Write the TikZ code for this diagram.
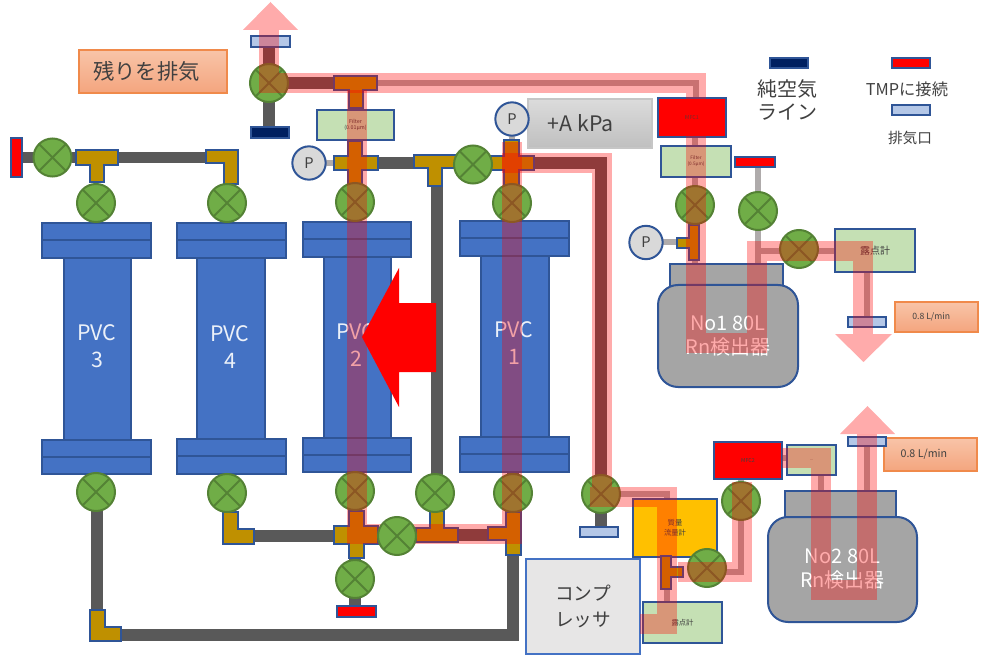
\documentclass[tikz,border=0pt]{standalone}
\usepackage{fontspec}
\setmainfont{Noto Sans CJK JP}
\pgfdeclarelayer{pipes}
\pgfdeclarelayer{bands}
\pgfdeclarelayer{top}
\pgfsetlayers{pipes,main,bands,top}
\definecolor{edge}{HTML}{2F5597}
\definecolor{vfill}{HTML}{70AD47}
\definecolor{vedge}{HTML}{548235}
\definecolor{gold}{HTML}{BF9000}
\definecolor{pvcblue}{HTML}{4472C4}
\definecolor{filtergreen}{HTML}{C5E0B4}
\definecolor{navy}{HTML}{002060}
\definecolor{capblue}{HTML}{B4C7E7}
\definecolor{detgray}{HTML}{A5A5A5}
\definecolor{pipedark}{HTML}{595959}
\definecolor{pipelight}{HTML}{AFABAB}
\definecolor{txt}{HTML}{404040}
\definecolor{labtop}{HTML}{F8C4A8}
\definecolor{labbot}{HTML}{F4A57E}
\definecolor{labedge}{HTML}{F08A4B}
\definecolor{massfill}{HTML}{FFC000}
\definecolor{compfill}{HTML}{E7E6E6}
\tikzset{
  plainbox/.style={rectangle,draw=edge,line width=1.5pt,inner sep=0pt,outer sep=0pt,align=center,text=txt},
  pvcpart/.style={plainbox,fill=pvcblue},
  filterbox/.style={plainbox,fill=filtergreen},
  capnavy/.style={plainbox,fill=navy},
  capred/.style={plainbox,fill=red},
  capblue/.style={plainbox,fill=capblue},
  mfc/.style={plainbox,fill=red},
  detector/.style={plainbox,fill=detgray,text=white,rounded corners=15pt},
  dettop/.style={plainbox,fill=detgray},
  orangelabel/.style={plainbox,draw=labedge,line width=.9pt,top color=labtop,bottom color=labbot,text=txt},
  valve/.style={circle,draw=vedge,fill=vfill,line width=1.5pt,minimum size=28.5pt,inner sep=0pt,outer sep=0pt,
    path picture={\draw[vedge,line width=1.5pt] (path picture bounding box.north west)--(path picture bounding box.south east)
      (path picture bounding box.north east)--(path picture bounding box.south west);}},
  gauge/.style={circle,draw=edge,fill=gray!30,line width=1.5pt,minimum size=25pt,inner sep=0pt,outer sep=0pt,text=txt,font=\fontsize{11}{13}\selectfont},
  freetext/.style={inner sep=0pt,outer sep=0pt,align=center,text=txt},
  pvctext/.style={inner sep=0pt,outer sep=0pt,align=center,text=white!90!pvcblue,font=\fontsize{16}{20}\selectfont},
  pipe/.style={pipedark,line width=8.5pt},
  thinpipe/.style={pipelight,line width=4.5pt},
  band/.style={red,opacity=.33,line width=15pt,line join=miter},
  fitedge/.style={draw=edge,line width=3pt,fill=edge},
  flowhead/.style={fill=red,opacity=.33},
}
\newcommand\bx[7][]{\node[plainbox,#1,minimum width={(#5-#3)*0.75pt},minimum height={(#6-#4)*0.75pt}] (#2) at ({(#3+#5)/2},{(#4+#6)/2}) {#7};}
\newcommand\fitshape[1]{%
  \foreach \a/\b/\c/\d in {#1}{\draw[fitedge] (\a,\b) rectangle (\c,\d);}
  \foreach \a/\b/\c/\d in {#1}{\fill[gold] (\a,\b) rectangle (\c,\d);}
}
\begin{document}
\begin{tikzpicture}[x=0.75pt,y=-0.75pt]
\useasboundingbox (0,0) rectangle (986,656);
% columns
\bx[pvcpart]{b3}{64}{258}{131}{440}{}
\bx[pvcpart]{b4}{197}{258}{265}{440}{}
\bx[pvcpart]{b2}{324}{257}{391}{438}{}
\bx[pvcpart]{b1}{481}{256}{549}{437}{}
\bx[pvcpart]{f3a}{42}{223}{151}{240}{}
\bx[pvcpart]{f3b}{42}{240}{151}{258}{}
\bx[pvcpart]{f3c}{42}{440}{151}{457}{}
\bx[pvcpart]{f3d}{42}{457}{151}{474}{}
\bx[pvcpart]{f4a}{177}{223}{286}{240}{}
\bx[pvcpart]{f4b}{177}{240}{286}{258}{}
\bx[pvcpart]{f4c}{177}{439}{286}{456}{}
\bx[pvcpart]{f4d}{177}{456}{286}{474}{}
\bx[pvcpart]{f2a}{303}{222}{411}{239}{}
\bx[pvcpart]{f2b}{303}{239}{411}{257}{}
\bx[pvcpart]{f2c}{303}{438}{411}{455}{}
\bx[pvcpart]{f2d}{303}{455}{411}{472}{}
\bx[pvcpart]{f1a}{460}{221}{569}{238}{}
\bx[pvcpart]{f1b}{460}{238}{569}{256}{}
\bx[pvcpart]{f1c}{460}{437}{569}{454}{}
\bx[pvcpart]{f1d}{460}{454}{569}{472}{}
\node[pvctext] (t3) at (97,346) {PVC\\3};
\node[pvctext] (t4) at (230,347) {PVC\\4};
\node[pvctext] (t2) at (356,345) {PVC\\2};
\node[pvctext] (t1) at (514,343) {PVC\\1};
% boxes
\bx[orangelabel,font=\fontsize{16}{18}\selectfont]{rest}{79}{50}{227}{93}{残りを排気\hspace{10pt}}
\bx[filterbox,font=\fontsize{4}{5}\selectfont]{f001}{317}{110}{394}{140}{Filter\\(0.01µm)}
\bx[plainbox,draw=gray!45,line width=.8pt,top color=gray!28,bottom color=gray!50,font=\fontsize{16}{18}\selectfont]{akpa}{528}{99}{652}{148}{+A kPa\hspace{14pt}}
\bx[mfc,font=\fontsize{4}{5}\selectfont]{mfc1}{658}{98}{726}{137}{MFC1}
\bx[filterbox,font=\fontsize{3.5}{4.5}\selectfont]{f05}{661}{146}{731}{177}{Filter\\(0.5µm)}
\bx[dettop]{d1top}{670}{264}{783}{288}{}
\bx[detector,font=\fontsize{15}{18}\selectfont]{d1}{658}{285}{798}{387}{No1 80L\\Rn検出器}
\bx[filterbox,font=\fontsize{7.5}{9}\selectfont]{dew1}{835}{229}{915}{272}{露点計}
\bx[orangelabel,font=\fontsize{6.5}{7}\selectfont]{lab1}{895}{302}{978}{332}{\raisebox{2pt}{0.8 L/min}\hspace{8pt}}
\bx[mfc,font=\fontsize{4}{5}\selectfont]{mfc2}{714}{442}{782}{479}{MFC2}
\bx[filterbox,font=\fontsize{3}{4}\selectfont]{f2box}{787}{445}{836}{475}{...}
\bx[dettop]{d2top}{785}{491}{896}{520}{}
\bx[detector,font=\fontsize{15}{18}\selectfont]{d2}{768}{517}{917}{622}{No2 80L\\Rn検出器}
\bx[orangelabel,font=\fontsize{8}{9}\selectfont]{lab2}{884}{438}{977}{471}{\raisebox{2pt}{0.8 L/min}\hspace{10pt}}
\bx[plainbox,fill=massfill,font=\fontsize{5.5}{7.5}\selectfont]{mass}{633}{499}{717}{557}{質量\\流量計}
\bx[filterbox,font=\fontsize{5.5}{7}\selectfont]{dew2}{643}{602}{722}{643}{露点計}
\bx[plainbox,draw=pvcblue,fill=compfill,font=\fontsize{14}{20}\selectfont]{comp}{526}{559}{640}{654}{コンプ\\レッサ}
% caps
\bx[capred]{capL}{11}{138}{22}{177}{}
\bx[capblue]{capT}{251}{36}{290}{47}{}
\bx[capnavy]{capN}{251}{127}{289}{138}{}
\bx[capred]{capB}{337}{606}{376}{617}{}
\bx[capblue]{capM}{580}{527}{618}{537}{}
\bx[capred]{capR}{735}{157}{775}{167}{}
\bx[capblue]{cap1}{848}{317}{886}{327}{}
\bx[capblue]{cap2}{848}{437}{886}{446}{}
\bx[capnavy]{legN}{770}{58}{808}{68}{}
\bx[capred]{legR}{892}{58}{930}{68}{}
\bx[capblue]{legB}{892}{105}{930}{115}{}
\node[freetext,font=\fontsize{15}{17.5}\selectfont] (lt1) at (787,100) {純空気\\ライン};
\node[freetext,font=\fontsize{12.2}{14}\selectfont] (lt2) at (907,89) {TMPに接続};
\node[freetext,font=\fontsize{11}{13}\selectfont] (lt3) at (910,138) {排気口};
% fittings
\fitshape{77/151/117/164,91/164/103/181}
\fitshape{207/151/237/162,225/162/237/183}
\fitshape{335/77/376/89,350/89/362/107}
\fitshape{335/157/377/169,349/142/361/184}
\fitshape{415/156/455/167,429/167/441/185}
\fitshape{492/157/533/169,505/141/518/184}
\fitshape{678/239/690/247,690/226/698/259}
\fitshape{224/513/237/543,237/530/253/543}
\fitshape{335/527/377/543,350/512/363/557}
\fitshape{431/512/443/529,417/529/457/541}
\fitshape{507/513/520/554,489/528/507/539}
\fitshape{91/611/104/640,104/628/120/640}
\fitshape{662/557/670/588,670/568/682/576}
\coordinate (jT3) at (97,157.5);
\coordinate (jL4) at (231,157.5);
\coordinate (jTop) at (355,83);
\coordinate (jX2) at (355,163);
\coordinate (jTm) at (437,163);
\coordinate (jX1) at (512,163);
\coordinate (jPp) at (690,242.5);
\coordinate (jLb4) at (245,536);
\coordinate (jXb) at (356,535);
\coordinate (jRb) at (513,535);
\coordinate (jLL) at (97,635);
\coordinate (jBR) at (513,635);
\coordinate (jTc) at (667,572);
\coordinate (cUp) at (269,30);
\coordinate (cTr) at (696,83.5);
\coordinate (cM) at (602,163);
\coordinate (cMb) at (602,496.5);
\coordinate (cMc) at (667,496.5);
\coordinate (c2a) at (741,572);
\coordinate (c2b) at (821,458);
\coordinate (c2c) at (821,590);
\coordinate (c2d) at (867,590);
\coordinate (c1a) at (696,343);
\coordinate (c1b) at (757,343);
\coordinate (c1c) at (757,251);
\coordinate (c1d) at (863,251);
\coordinate (c1e) at (867,272);
% valves
\node[valve] (vL) at (52.5,157.5) {};
\node[valve] (v3t) at (96,203) {};
\node[valve] (v4t) at (227,203) {};
\node[valve] (vTop) at (269,83) {};
\node[valve] (v2t) at (355,202) {};
\node[valve] (v1t) at (512,203) {};
\node[valve] (vM) at (473,164.5) {};
\node[valve] (v3b) at (96,492) {};
\node[valve] (v4b) at (227,493) {};
\node[valve] (v2b) at (355,491) {};
\node[valve] (vMb) at (435,493) {};
\node[valve] (v1b) at (513,493) {};
\node[valve] (vBt) at (355,579) {};
\node[valve] (vOut) at (601,494) {};
\node[valve] (vD1) at (695,205) {};
\node[valve] (vD1b) at (758,211) {};
\node[valve] (vD1c) at (799,249) {};
\node[valve] (vD2a) at (741,501) {};
\node[valve] (vD2b) at (707,568) {};
\node[gauge] (p1) at (309,163) {P};
\node[gauge] (p2) at (512,119) {P};
\node[gauge] (p3) at (646,242.5) {P};
% pipes
\begin{pgfonlayer}{pipes}
\draw[pipe] (capL) -- (vL) -- (jT3) -- (jL4);
\draw[pipe] (v3t) -- (v3t |- f3a.north);
\draw[pipe] (v4t) -- (v4t |- f4a.north);
\draw[pipe] (vTop |- capT.south) -- (vTop) -- (vTop |- capN.north);
\draw[pipe] (vTop) -- (jTop);
\draw[thinpipe] (jTop) -- (jTop -| cTr) -- (cTr |- mfc1.north);
\draw[thinpipe] (p1) -- (jX2);
\draw[pipe] (jX2) -- (jX1) -- (vOut |- jX1) -- (vOut);
\draw[pipe] (jTm) -- (jTm |- vMb);
\draw[thinpipe] (p2) -- (jX1);
\draw[pipe] (vOut) -- (vOut |- capM.north);
\draw[thinpipe] (vOut.center) -- (jTc |- vOut) -- (jTc |- mass.north);
\draw[pipe] (jLb4) -- (jXb |- jLb4);
\draw[pipe] (jXb) -- (jRb);
\draw[pipe] (v2b) -- (v2b |- vBt) -- (v2b |- capB.north);
\draw[pipe] (v1b) -- (jBR) -- (jLL) -- (jLL |- v3b);
\draw[pipe] (v3b) -- (v3b |- f3d.south);
\draw[pipe] (v4b) -- (v4b |- f4d.south);
\draw[pipe] (v2b) -- (v2b |- f2d.south);
\draw[pipe] (v1b) -- (v1b |- f1d.south);
\draw[pipe] (v2t) -- (v2t |- f2a.north);
\draw[pipe] (v1t) -- (v1t |- f1a.north);
\draw[thinpipe] (vD1 |- mfc1.south) -- (vD1) -- (vD1 |- d1top.north);
\draw[thinpipe] (vD1b |- capR.south) -- (vD1b) -- (vD1b |- d1top.north);
\draw[thinpipe] (c1c) -- (dew1.west |- c1c);
\draw[thinpipe] (c1e) -- (c1e |- cap1.north);
\draw[thinpipe] (p3) -- (jPp);
\draw[thinpipe] (vD2a) -- (c2a) -- (vD2b |- c2a);
\draw[thinpipe] (mfc2.east |- c2b) -- (f2box.west |- c2b);
\draw[thinpipe] (c2b |- f2box.south) -- (c2b |- d2top.north);
\draw[thinpipe] (cap2.south -| c2d) -- (d2top.north -| c2d);
\draw[thinpipe] (mass.south -| jTc) -- (dew2.north -| jTc);
\draw[thinpipe] (vD2a) -- (mfc2.south -| vD2a);
\end{pgfonlayer}
% flow highlight bands
\begin{pgfonlayer}{bands}
\draw[band] (cUp) -- (269,83.5) -- (cTr) -- (c1a) -- (c1b) -- (c1c) -- (c1d) -- (863,334);
\fill[flowhead] (243,30) -- (270.5,2) -- (298,30) -- cycle;
\fill[flowhead] (835,334) -- (863.5,362) -- (892,334) -- cycle;
\draw[band] (357,90) -- (357,534) -- (512,534) -- (512,142);
\draw[band] (502,163) -- (cM) -- (cMb) -- (590,496.5) (cMb) -- (cMc) -- (667,624) -- (640,624);
\draw[band] (742,482) -- (742,572) -- (678,572);
\draw[band] (782,458) -- (c2b) -- (c2c) -- (c2d) -- (867,434);
\fill[flowhead] (840,434) -- (867.5,406) -- (895,434) -- cycle;
\end{pgfonlayer}
% closed valve and big arrow above the bands
\begin{pgfonlayer}{top}
\node[valve] (vBm) at (397,536) {};
\fill[red] (362,337) -- (399,268) -- (399,303) -- (436,303) -- (436,372) -- (399,372) -- (399,407) -- cycle;
\end{pgfonlayer}
\end{tikzpicture}
\end{document}
